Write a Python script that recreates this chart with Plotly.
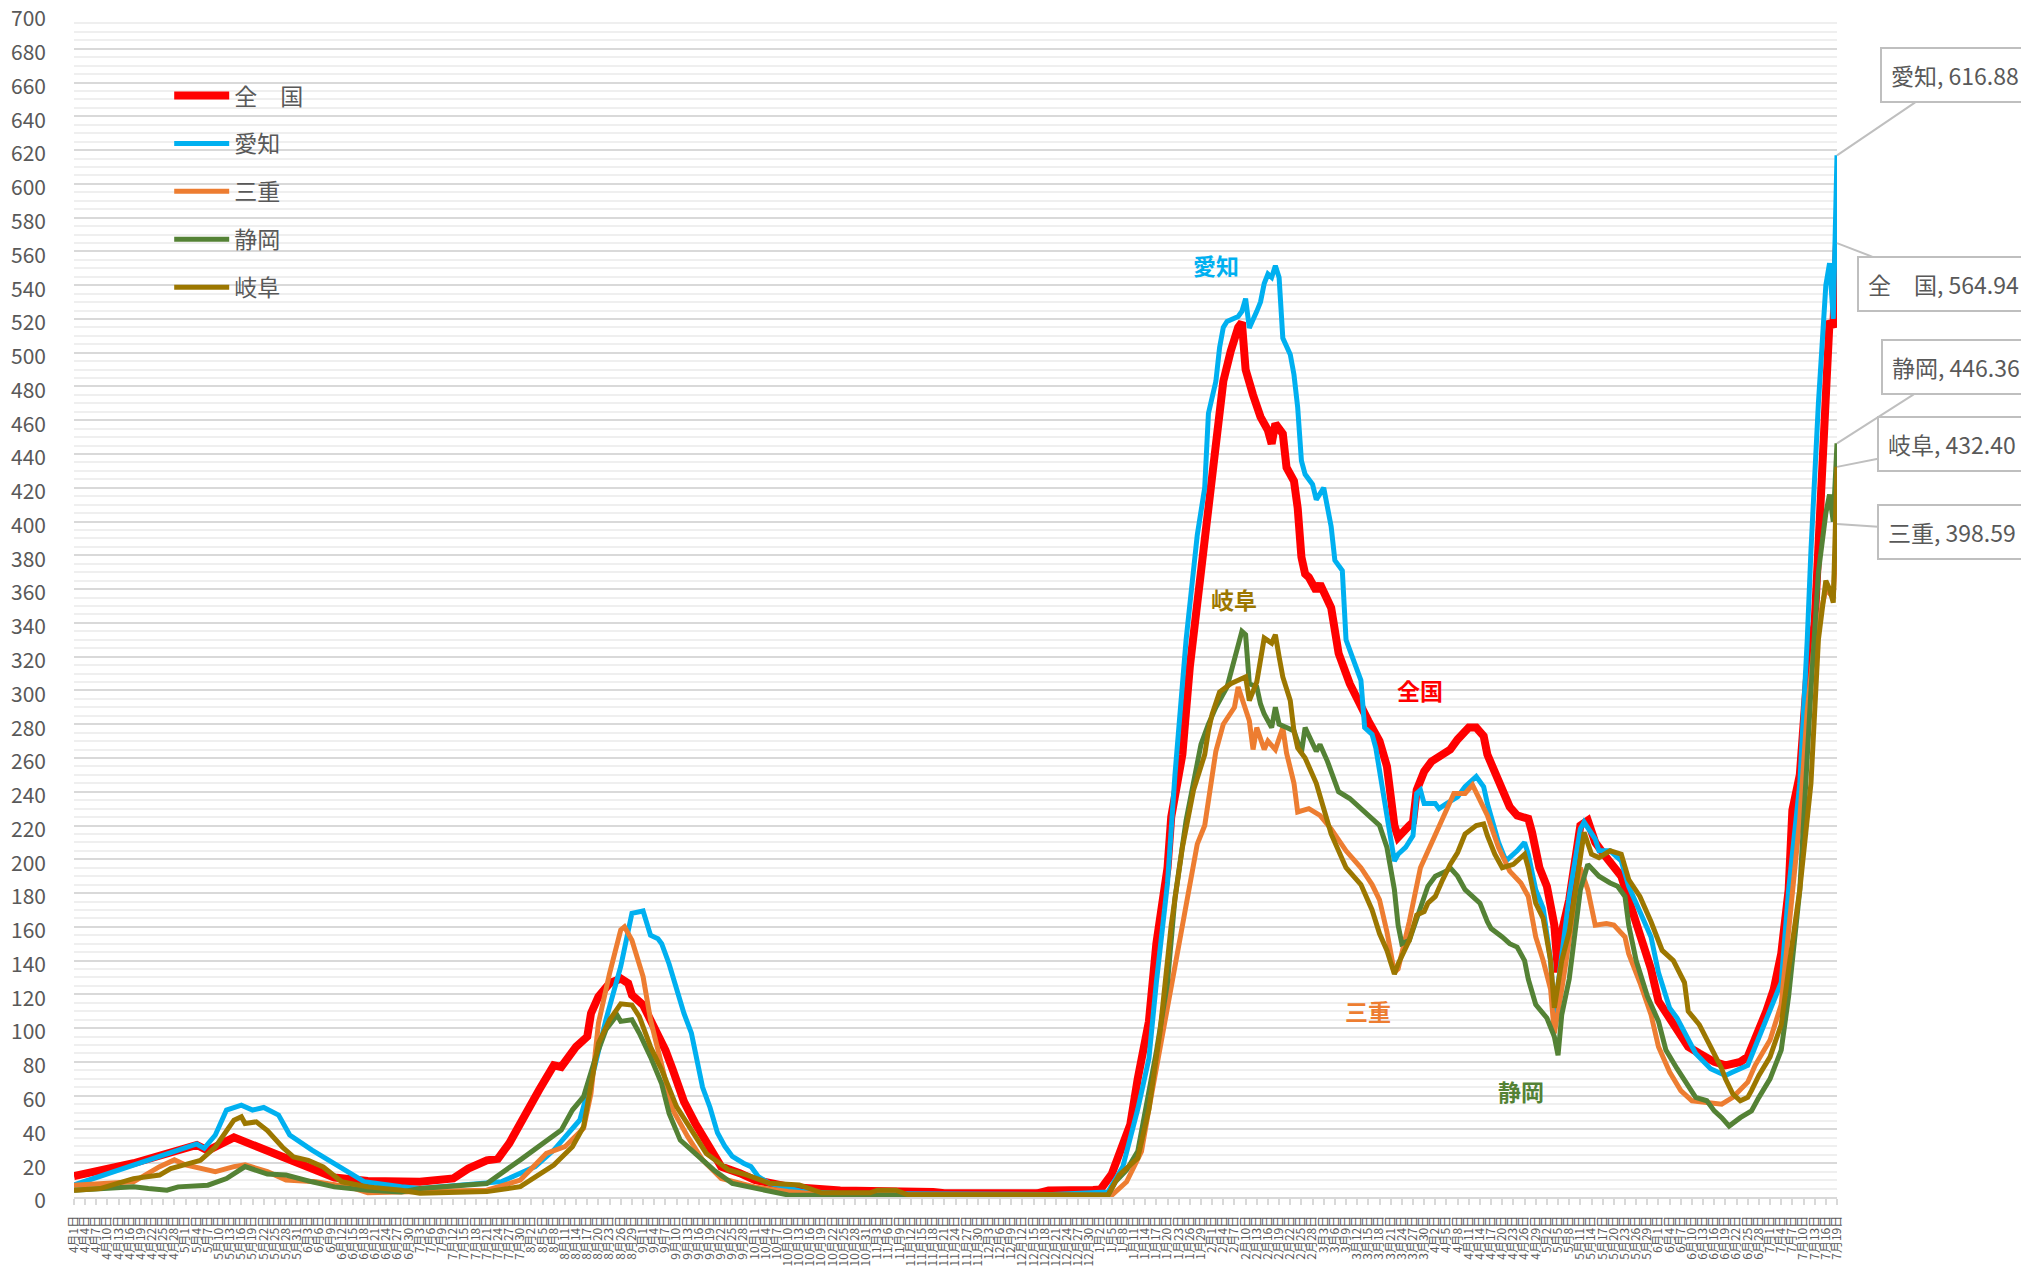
import plotly.graph_objects as go
import pandas as pd

# ---------------- data (7-day new cases per 100k) ----------------
series_names = ["全　国", "愛知", "三重", "静岡", "岐阜"]
series_colors = ["#FF0000", "#00B0F0", "#ED7D31", "#548235", "#9C7700"]
series_widths = [8, 5, 5, 5, 5]

zenkoku_dates = ["2021-04-01","2021-04-17","2021-05-04","2021-05-07","2021-05-14","2021-05-23","2021-06-01","2021-06-10","2021-06-19","2021-06-28",
"2021-07-03","2021-07-12","2021-07-16","2021-07-21","2021-07-24","2021-07-27","2021-07-30","2021-08-01","2021-08-04","2021-08-08","2021-08-10",
"2021-08-14","2021-08-17","2021-08-18","2021-08-20","2021-08-23","2021-08-26","2021-08-28","2021-08-29","2021-09-01","2021-09-04","2021-09-07",
"2021-09-09","2021-09-12","2021-09-15","2021-09-19","2021-09-22","2021-09-27","2021-10-01","2021-10-10","2021-10-19","2021-10-24","2021-11-18",
"2021-11-21","2021-12-16","2021-12-19","2021-12-31","2022-01-02","2022-01-05","2022-01-08","2022-01-10","2022-01-12","2022-01-15","2022-01-17",
"2022-01-20","2022-01-21","2022-01-24","2022-01-26","2022-01-29","2022-01-31","2022-02-02","2022-02-04","2022-02-06","2022-02-08","2022-02-09",
"2022-02-10","2022-02-12","2022-02-14","2022-02-16","2022-02-17","2022-02-18","2022-02-20","2022-02-21","2022-02-23","2022-02-24","2022-02-25",
"2022-02-26","2022-02-27","2022-03-01","2022-03-02","2022-03-05","2022-03-07","2022-03-10","2022-03-13","2022-03-15","2022-03-18","2022-03-20",
"2022-03-22","2022-03-23","2022-03-26","2022-03-27","2022-03-28","2022-03-30","2022-04-01","2022-04-03","2022-04-06","2022-04-08","2022-04-11",
"2022-04-13","2022-04-15","2022-04-16","2022-04-19","2022-04-22","2022-04-24","2022-04-27","2022-04-28","2022-04-30","2022-05-02","2022-05-04",
"2022-05-05","2022-05-06","2022-05-08","2022-05-11","2022-05-13","2022-05-15","2022-05-18","2022-05-22","2022-05-24","2022-05-27","2022-05-30",
"2022-06-01","2022-06-04","2022-06-07","2022-06-09","2022-06-12","2022-06-16","2022-06-19","2022-06-23","2022-06-25","2022-06-27","2022-06-30",
"2022-07-02","2022-07-04","2022-07-06","2022-07-07","2022-07-09","2022-07-11","2022-07-13","2022-07-14","2022-07-17","2022-07-18","2022-07-19"]
zenkoku_vals = [12.4,20,30.8,27.5,35.3,27,18.9,11.5,9.5,9.5,
9.1,11,16.8,21.7,22.7,31.7,43.4,53.3,63.2,78,77,
89,95,108.7,118.6,126.5,129.4,126.5,119.6,113.7,100.9,87,
75.3,56.5,43.7,28,18,14.1,10.1,6.1,4.1,3.8,3,
2.2,2.2,3.8,4.2,4.5,13.6,29.5,43,70,104,150,
195,225,262,314,369,405,448,483,501,515,518,
490,475,462,454,446,458,452,432,424,408,379,
369,367,359,363,349,322,304,290,282,270,255,
220,213,220,222,241,252,258,261,265,271,278,
278,273,262,245,231,226,224,216,195,184,161,
133,157,176,220,223,210,201,190,176,154,135,
116,106,95,89,85,80,78,80,83,93,110,
123,144,182,229,250,309,340,383,519,515,564.94]

aichi_dates = ["2021-04-01","2021-04-17","2021-05-04","2021-05-06","2021-05-09","2021-05-12","2021-05-16","2021-05-19","2021-05-22","2021-05-26",
"2021-05-29","2021-06-04","2021-06-10","2021-06-18","2021-06-28","2021-07-03","2021-07-25","2021-08-03","2021-08-08","2021-08-15","2021-08-19",
"2021-08-22","2021-08-26","2021-08-29","2021-09-01","2021-09-03","2021-09-05","2021-09-06","2021-09-08","2021-09-10","2021-09-12","2021-09-14",
"2021-09-15","2021-09-17","2021-09-19","2021-09-21","2021-09-23","2021-09-25","2021-09-28","2021-09-30","2021-10-02","2021-10-05","2021-10-14",
"2021-10-24","2021-12-20","2021-12-31","2022-01-04","2022-01-08","2022-01-12","2022-01-15","2022-01-17","2022-01-20","2022-01-22","2022-01-25",
"2022-01-28","2022-01-30","2022-01-31","2022-02-02","2022-02-03","2022-02-04","2022-02-05","2022-02-08","2022-02-09","2022-02-10","2022-02-11",
"2022-02-13","2022-02-14","2022-02-15","2022-02-16","2022-02-17","2022-02-18","2022-02-19","2022-02-20","2022-02-22","2022-02-23","2022-02-24",
"2022-02-25","2022-02-26","2022-02-28","2022-03-01","2022-03-03","2022-03-05","2022-03-06","2022-03-08","2022-03-09","2022-03-11","2022-03-13",
"2022-03-14","2022-03-16","2022-03-17","2022-03-18","2022-03-19","2022-03-22","2022-03-23","2022-03-25","2022-03-27","2022-03-28","2022-03-29",
"2022-03-30","2022-04-02","2022-04-03","2022-04-05","2022-04-08","2022-04-10","2022-04-13","2022-04-15","2022-04-16","2022-04-19","2022-04-21",
"2022-04-24","2022-04-26","2022-04-27","2022-04-29","2022-05-01","2022-05-03","2022-05-04","2022-05-06","2022-05-08","2022-05-11","2022-05-12",
"2022-05-15","2022-05-16","2022-05-19","2022-05-22","2022-05-24","2022-05-27","2022-05-30","2022-06-01","2022-06-04","2022-06-06","2022-06-09",
"2022-06-11","2022-06-15","2022-06-19","2022-06-21","2022-06-25","2022-06-27","2022-06-30","2022-07-04","2022-07-06","2022-07-09","2022-07-11",
"2022-07-12","2022-07-14","2022-07-16","2022-07-17","2022-07-18","2022-07-19"]
aichi_vals = [7.1,18.9,31.4,28.8,36.7,51.5,54.4,51.5,53,48.5,
36.7,27.8,19.9,9.1,6.1,5,9.1,18,27.8,45.6,77.2,
104.9,136.5,168,169.4,155,153,150,138,122,108.7,97,
85,65,53,38,30,24,20,18,12,8,3.2,
2,1.5,2.5,3,18,52,82,127,186,250,330,
392,420,464,483,503,515,518.5,521.5,524.5,532,514.6,
524.5,530,541,546.6,544.6,551.5,544.6,508.7,499,487,467.5,
436,428,422,413,420,397,377,371,330,318,306,
278,274,266,252,239,199,203,207,214,239,241,
233,233,230,233,237,243,249,243,233,210,199,
205,210,203,182,171,140,108,146,178,218,222,
212,205,205,199,184,169,154,133,112,106,93,
85,76,72,74,78,89,106,127,182,245,330,
383,470,540,553,520,616.88]

mie_dates = ["2021-04-01","2021-04-17","2021-04-24","2021-04-28","2021-05-01","2021-05-05","2021-05-09","2021-05-14","2021-05-17","2021-05-23",
"2021-05-28","2021-06-05","2021-06-14","2021-06-19","2021-06-28","2021-07-03","2021-07-21","2021-07-30","2021-08-06","2021-08-11","2021-08-16",
"2021-08-18","2021-08-20","2021-08-23","2021-08-26","2021-08-27","2021-08-29","2021-09-01","2021-09-03","2021-09-06","2021-09-09","2021-09-13",
"2021-09-17","2021-09-22","2021-10-01","2021-10-10","2021-10-19","2021-12-31","2022-01-05","2022-01-09","2022-01-13","2022-01-15","2022-01-19",
"2022-01-22","2022-01-25","2022-01-28","2022-01-30","2022-01-31","2022-02-02","2022-02-04","2022-02-07","2022-02-08","2022-02-10","2022-02-11",
"2022-02-12","2022-02-13","2022-02-15","2022-02-16","2022-02-18","2022-02-20","2022-02-21","2022-02-23","2022-02-24","2022-02-27","2022-03-02",
"2022-03-05","2022-03-09","2022-03-13","2022-03-16","2022-03-18","2022-03-20","2022-03-22","2022-03-23","2022-03-24","2022-03-26","2022-03-29",
"2022-03-31","2022-04-02","2022-04-04","2022-04-07","2022-04-10","2022-04-12","2022-04-14","2022-04-16","2022-04-19","2022-04-22","2022-04-25",
"2022-04-27","2022-04-29","2022-05-01","2022-05-03","2022-05-04","2022-05-06","2022-05-08","2022-05-11","2022-05-13","2022-05-15","2022-05-18",
"2022-05-20","2022-05-23","2022-05-24","2022-05-27","2022-05-30","2022-06-01","2022-06-04","2022-06-07","2022-06-10","2022-06-14","2022-06-18",
"2022-06-21","2022-06-25","2022-06-27","2022-07-01","2022-07-04","2022-07-06","2022-07-09","2022-07-11","2022-07-13","2022-07-16","2022-07-18",
"2022-07-19"]
mie_vals = [7,9,18,22,19,16.8,15,18,19,15,
10,9,6,2.5,2.5,3.2,4,10,25.8,29.8,40.7,
61.4,102.9,132.5,158.2,160,152,130.5,105,77,51.5,35.7,
22,11,6,3.2,1.5,1,1,9,27,52,100,
136,173,209,220,234,264,280,290,302,290,282,
265,278,265,270,265,278,263,245,228,230,226,
218,205,195,185,176,157,133,135,144,163,195,
205,214,224,239,239,244,235,226,207,193,186,
178,154,140,123,97,123,152,195,182,161,162,
161,154,144,127,108,89,74,63,57,56,55,
59,68,78,93,114,161,224,288,330,360,355,
398.59]

shizuoka_dates = ["2021-04-01","2021-04-17","2021-04-21","2021-04-26","2021-04-29","2021-05-07","2021-05-12","2021-05-17","2021-05-23","2021-05-28",
"2021-06-04","2021-06-10","2021-06-19","2021-06-28","2021-07-03","2021-07-21","2021-07-30","2021-08-06","2021-08-10","2021-08-13","2021-08-16",
"2021-08-19","2021-08-22","2021-08-25","2021-08-26","2021-08-29","2021-08-31","2021-09-03","2021-09-06","2021-09-08","2021-09-11","2021-09-15",
"2021-09-20","2021-09-25","2021-10-01","2021-10-10","2021-12-31","2022-01-04","2022-01-06","2022-01-09","2022-01-12","2022-01-14","2022-01-17",
"2022-01-20","2022-01-22","2022-01-25","2022-01-27","2022-01-29","2022-01-31","2022-02-02","2022-02-05","2022-02-07","2022-02-08","2022-02-09",
"2022-02-10","2022-02-11","2022-02-13","2022-02-14","2022-02-15","2022-02-17","2022-02-18","2022-02-19","2022-02-21","2022-02-23","2022-02-25",
"2022-02-26","2022-03-01","2022-03-02","2022-03-04","2022-03-07","2022-03-10","2022-03-13","2022-03-16","2022-03-18","2022-03-20","2022-03-22",
"2022-03-23","2022-03-24","2022-03-26","2022-03-28","2022-03-30","2022-03-31","2022-04-02","2022-04-05","2022-04-06","2022-04-08","2022-04-10",
"2022-04-14","2022-04-16","2022-04-17","2022-04-20","2022-04-22","2022-04-24","2022-04-26","2022-04-27","2022-04-29","2022-05-02","2022-05-04",
"2022-05-05","2022-05-06","2022-05-08","2022-05-11","2022-05-13","2022-05-15","2022-05-16","2022-05-19","2022-05-21","2022-05-23","2022-05-24",
"2022-05-26","2022-05-29","2022-06-01","2022-06-03","2022-06-06","2022-06-09","2022-06-11","2022-06-14","2022-06-16","2022-06-18","2022-06-20",
"2022-06-23","2022-06-26","2022-06-28","2022-07-01","2022-07-04","2022-07-06","2022-07-09","2022-07-11","2022-07-12","2022-07-14","2022-07-16",
"2022-07-17","2022-07-18","2022-07-19"]
shizuoka_vals = [4,6,5,4,6,7,10.9,18,13.6,13,
9,6,4,3,5,8,22,33.7,39.6,51.5,59.4,
81,99,107.8,104,105,97,83,67,49.5,33.7,25.8,
16,8,5,1.2,1,1,9,16,27,50,86,
127,177,223,245,268,280,290,302,318,328,335,
333,304,302,292,286,278,290,280,278,276,263,
278,264,268,258,240,236,230,225,220,207,182,
161,150,152,165,178,184,190,193,195,190,182,
174,163,159,154,150,148,140,129,114,106,95,
84,108,129,182,197,193,190,186,184,178,161,
140,119,104,87,76,66,59,57,51,47,42,
47,51,59,70,87,119,182,267,300,370,405,
416,400,446.36]

gifu_dates = ["2021-04-01","2021-04-08","2021-04-17","2021-04-24","2021-04-27","2021-05-05","2021-05-09","2021-05-14","2021-05-16","2021-05-17",
"2021-05-20","2021-05-23","2021-05-27","2021-05-30","2021-06-03","2021-06-07","2021-06-12","2021-06-19","2021-06-28","2021-07-03","2021-07-21",
"2021-07-30","2021-08-08","2021-08-13","2021-08-16","2021-08-18","2021-08-20","2021-08-23","2021-08-26","2021-08-29","2021-08-31","2021-09-03",
"2021-09-06","2021-09-10","2021-09-14","2021-09-18","2021-09-24","2021-09-29","2021-10-05","2021-10-13","2021-10-19","2021-11-01","2021-11-03",
"2021-11-08","2021-11-11","2021-12-31","2022-01-04","2022-01-07","2022-01-12","2022-01-15","2022-01-18","2022-01-21","2022-01-24","2022-01-27",
"2022-01-30","2022-01-31","2022-02-01","2022-02-03","2022-02-06","2022-02-08","2022-02-10","2022-02-11","2022-02-13","2022-02-14","2022-02-15",
"2022-02-17","2022-02-18","2022-02-19","2022-02-20","2022-02-22","2022-02-23","2022-02-24","2022-02-26","2022-03-01","2022-03-05","2022-03-09",
"2022-03-13","2022-03-16","2022-03-18","2022-03-20","2022-03-22","2022-03-23","2022-03-25","2022-03-26","2022-03-28","2022-03-30","2022-03-31",
"2022-04-02","2022-04-04","2022-04-06","2022-04-08","2022-04-10","2022-04-13","2022-04-15","2022-04-16","2022-04-18","2022-04-20","2022-04-23",
"2022-04-26","2022-04-27","2022-04-29","2022-05-01","2022-05-03","2022-05-04","2022-05-06","2022-05-08","2022-05-10","2022-05-12","2022-05-14",
"2022-05-16","2022-05-19","2022-05-22","2022-05-24","2022-05-27","2022-05-30","2022-06-02","2022-06-05","2022-06-08","2022-06-09","2022-06-12",
"2022-06-15","2022-06-18","2022-06-19","2022-06-21","2022-06-23","2022-06-25","2022-06-26","2022-06-28","2022-07-01","2022-07-04","2022-07-06",
"2022-07-09","2022-07-12","2022-07-14","2022-07-16","2022-07-17","2022-07-18","2022-07-19"]
gifu_vals = [4,5,10.9,13,16.8,21.7,29.6,45.5,47.5,43.5,
44.5,39.4,29.6,23.7,21.7,17.8,9,6,4,2.2,3.2,
6.1,18.9,29.8,41.6,65.3,91,104.9,114.4,113.7,106.8,89,
75.3,53.5,39.6,25.8,16,13,8.1,7.1,2.5,2.5,4,
4,1.5,1.2,1.2,13,23,52,98,161,207,241,
262,276,286,299,304,306,308,294,305,318,331,
328,333,320,308,294,276,266,260,245,215,195,
185,170,156,146,132,138,148,152,167,169,174,
178,188,197,204,215,220,221,214,203,195,197,
203,195,174,165,140,112,140,157,186,216,203,
201,205,203,188,178,163,146,140,127,110,102,
89,76,70,61,57,59,63,72,83,102,135,
182,245,330,365,360,352,432.4]

all_dates = [zenkoku_dates, aichi_dates, mie_dates, shizuoka_dates, gifu_dates]
all_vals = [zenkoku_vals, aichi_vals, mie_vals, shizuoka_vals, gifu_vals]

# in-plot series labels (text, date, value)
label_texts = ["愛知", "岐阜", "全国", "三重", "静岡"]
label_dates = ["2022-02-02", "2022-02-07", "2022-03-29", "2022-03-15", "2022-04-25"]
label_vals = [552, 354, 300, 110, 63]
label_colors = ["#00B0F0", "#9C7700", "#FF0000", "#ED7D31", "#548235"]

# x-axis category labels every 3 days
tick_dates = pd.date_range("2021-04-01", "2022-07-19", freq="3D")
tick_text = [f"{d.month}月{d.day}日" for d in tick_dates]

GRAY = "#595959"
NUMFONT = "Noto Sans CJK JP, sans-serif"
CJKFONT = "Noto Sans CJK JP, sans-serif"

fig = go.Figure()
for i, name in enumerate(series_names):
    fig.add_trace(go.Scatter(
        x=all_dates[i], y=all_vals[i], mode="lines", name=name,
        legendgroup=f"g{i}",
        line=dict(color=series_colors[i], width=series_widths[i]),
        hoverinfo="skip",
    ))

# bold coloured labels inside the plot
for t, d, v, c in zip(label_texts, label_dates, label_vals, label_colors):
    fig.add_annotation(x=d, y=v, text=f"<b>{t}</b>", showarrow=False,
                       font=dict(family=CJKFONT, size=23, color=c))

# callout labels for last values
callout_offsets = {"愛知": (118, -80), "全　国": (106, 41), "静岡": (119, -76),
                   "岐阜": (115, -23), "三重": (115, 8)}
for i, name in enumerate(series_names):
    ax, ay = callout_offsets[name]
    fig.add_annotation(
        x=all_dates[i][-1], y=all_vals[i][-1],
        text=f"{name}, {all_vals[i][-1]:.2f}",
        showarrow=True, arrowhead=0, arrowwidth=2, arrowcolor="#BFBFBF",
        ax=ax, ay=ay, bgcolor="white", bordercolor="#BFBFBF", borderwidth=2,
        borderpad=9, font=dict(family=NUMFONT, size=23, color=GRAY),
    )

# page body has an 8px margin: figure is drawn 8px right/down
fig.update_layout(
    width=2021, height=1267,
    margin=dict(l=66, r=192, t=7, b=78),
    paper_bgcolor="white", plot_bgcolor="white",
    showlegend=True,
    legend=dict(x=0.054, y=0.950, xanchor="left", yanchor="top",
                bgcolor="rgba(0,0,0,0)", tracegroupgap=15, itemwidth=55,
                font=dict(family=CJKFONT, size=23, color=GRAY)),
    xaxis=dict(type="date", range=["2021-04-01", "2022-07-19"],
               tickmode="array", tickvals=tick_dates, ticktext=tick_text,
               tickangle=-90, tickfont=dict(family=CJKFONT, size=12, color=GRAY),
               ticks="outside", ticklen=6, tickcolor="#D9D9D9", tickwidth=1.5,
               showline=True, linecolor="#D9D9D9", linewidth=2,
               showgrid=False, zeroline=False, automargin=False,
               ticklabelstandoff=6),
    yaxis=dict(range=[0, 700], tick0=0, dtick=20,
               tickfont=dict(family=NUMFONT, size=21, color=GRAY),
               showgrid=True, gridcolor="#D9D9D9", gridwidth=2,
               minor=dict(dtick=5, showgrid=True, gridcolor="#EFEFEF", gridwidth=1.5),
               zeroline=False, ticks="", automargin=False,
               ticklabelstandoff=27, ticklabeloverflow="allow",
               ticklabelshift=4),
)

fig.write_html("out.html")
